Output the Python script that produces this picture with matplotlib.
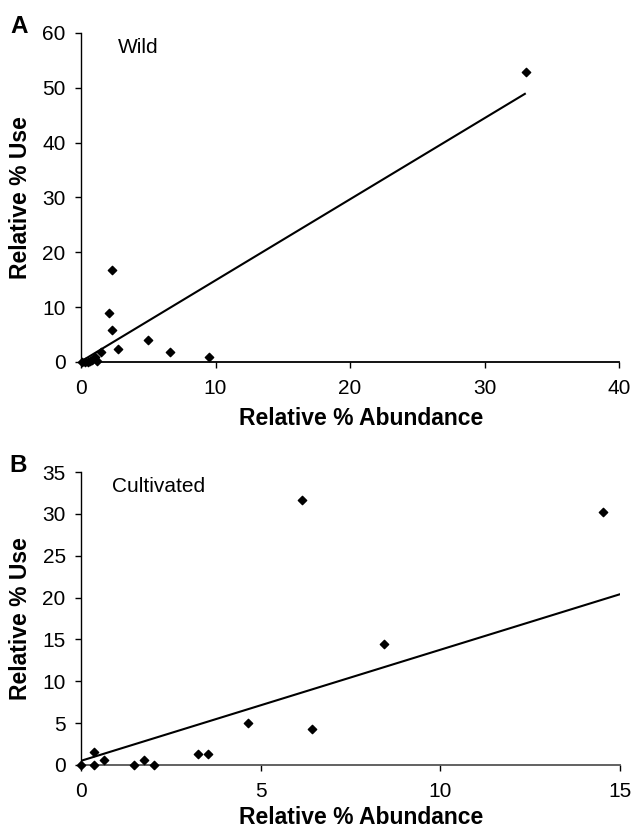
import matplotlib
matplotlib.use("Agg")
from matplotlib import pyplot as plt

# Panel A - wild
wildAbundance = [0.1, 0.3, 0.5, 0.7, 0.85, 1.04, 1.2, 1.46, 2.08, 2.33, 2.33, 2.78, 5.0, 6.6, 9.5, 33.1]
wildUse = [0.0, 0.0, 0.0, 0.2, 0.4, 0.85, 0.1, 1.8, 9.0, 16.8, 5.8, 2.3, 4.1, 1.8, 1.0, 52.9]
wildFitX = [0.0, 33.0]
wildFitY = [0.1, 48.9]

# Panel B - cultivated
cultAbundance = [0.0, 0.35, 0.35, 0.65, 1.47, 1.75, 2.04, 3.25, 3.54, 4.64, 6.14, 6.44, 8.44, 14.53]
cultUse = [0.0, 0.0, 1.5, 0.64, 0.0, 0.64, 0.0, 1.36, 1.36, 4.98, 31.6, 4.26, 14.4, 30.2]
cultFitX = [0.0, 15.0]
cultFitY = [0.5, 20.4]

fig = plt.figure(figsize=(6.34, 8.33), dpi=100)
plt.rcParams['font.family'] = ['Liberation Sans', 'DejaVu Sans']

axA = fig.add_axes([81/634, 1-362/833, 538/634, 329/833])
axB = fig.add_axes([81/634, 1-765/833, 539/634, 293/833])


def StylePanel(ax, xmax, ymax, xstep, ystep, label, note, noteXY, spineColor, xlabelY):
    ax.set_xlim(0, xmax)
    ax.set_ylim(0, ymax)
    ax.set_xticks(range(0, xmax + 1, xstep))
    ax.set_yticks(range(0, ymax + 1, ystep))
    ax.spines['top'].set_visible(False)
    ax.spines['right'].set_visible(False)
    ax.spines['left'].set_linewidth(1.0)
    ax.spines['bottom'].set_linewidth(1.3)
    ax.spines['bottom'].set_color(spineColor)
    ax.tick_params(axis='both', direction='out', length=4, width=1, labelsize=15)
    ax.tick_params(axis='x', pad=8)
    ax.tick_params(axis='y', pad=7)
    ax.set_xlabel("Relative % Abundance", fontsize=16.5, fontweight='bold', va='top')
    ax.set_ylabel("Relative % Use", fontsize=16.5, fontweight='bold', va='center')
    ax.xaxis.set_label_coords(0.52, xlabelY)
    ax.yaxis.set_label_coords(-0.113, 0.5)
    ax.text(-0.132, 1.0, label, transform=ax.transAxes, fontsize=17.5, fontweight='bold', va='baseline', ha='left')
    ax.text(noteXY[0], noteXY[1], note, transform=ax.transAxes, fontsize=15, va='center', ha='left')
    for lab in ax.get_xticklabels() + ax.get_yticklabels():
        lab.set_clip_on(False)


axA.plot(wildFitX, wildFitY, color='black', linewidth=1.5)
axA.scatter(wildAbundance, wildUse, marker='D', s=18, color='black', zorder=3, clip_on=False)
StylePanel(axA, 40, 60, 10, 10, "A", "Wild", (0.069, 0.957), 'black', -0.136)

axB.plot(cultFitX, cultFitY, color='black', linewidth=1.5)
axB.scatter(cultAbundance, cultUse, marker='D', s=18, color='black', zorder=3, clip_on=False)
StylePanel(axB, 15, 35, 5, 5, "B", "Cultivated", (0.058, 0.949), '#555555', -0.141)

fig.savefig("out.png", dpi=100)
